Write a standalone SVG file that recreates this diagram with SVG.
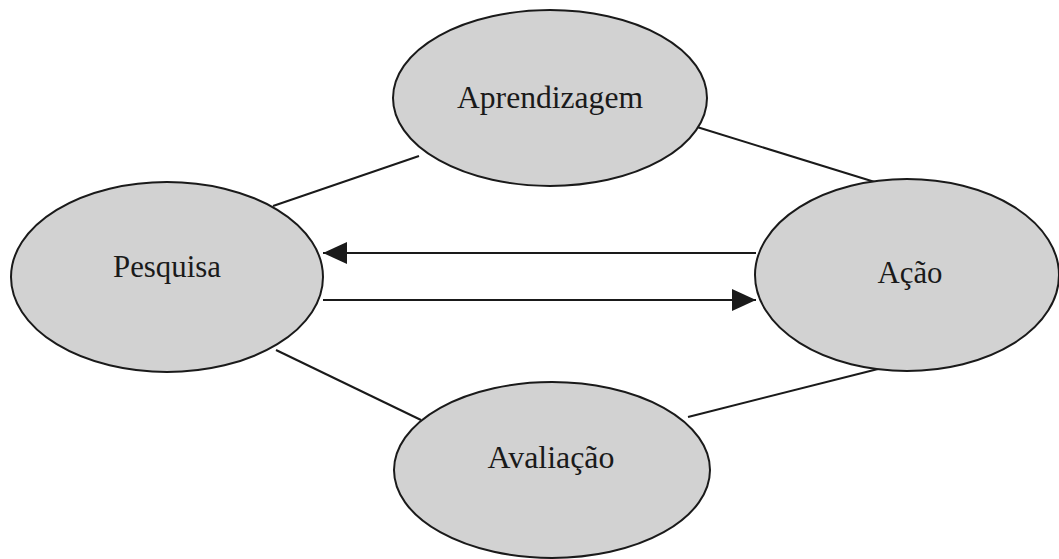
<svg xmlns="http://www.w3.org/2000/svg" width="1059" height="559" viewBox="0 0 1059 559">
  <style>
    .node ellipse { fill: #d2d2d2; stroke: #1a1a1a; stroke-width: 2; }
    .node text { font-family: "Liberation Serif", "Times New Roman", serif; font-size: 31px; fill: #1a1a1a; text-anchor: middle; }
    .edge { stroke: #1a1a1a; stroke-width: 2; fill: none; }
  </style>
  <defs>
    <marker id="head" viewBox="0 0 24 22" refX="24" refY="11" markerWidth="24" markerHeight="22" markerUnits="userSpaceOnUse" orient="auto">
      <path d="M0,0 L24,11 L0,22 Z" fill="#1a1a1a"/>
    </marker>
  </defs>
  <rect width="1059" height="559" fill="#ffffff"/>

  <g id="connectors">
    <line class="edge" x1="273" y1="206" x2="419" y2="156"/>
    <line class="edge" x1="697" y1="127" x2="878" y2="183"/>
    <line class="edge" x1="276" y1="350" x2="421" y2="420"/>
    <line class="edge" x1="688" y1="417" x2="878" y2="369"/>
    <line class="edge" x1="756" y1="253" x2="323" y2="253" marker-end="url(#head)"/>
    <line class="edge" x1="323" y1="300" x2="756" y2="300" marker-end="url(#head)"/>
  </g>

  <g id="aprendizagem" class="node">
    <ellipse cx="550" cy="98" rx="157" ry="88"/>
    <text x="550" y="108" textLength="186" lengthAdjust="spacingAndGlyphs">Aprendizagem</text>
  </g>
  <g id="pesquisa" class="node">
    <ellipse cx="167" cy="277" rx="156" ry="95"/>
    <text x="167" y="277" textLength="108" lengthAdjust="spacingAndGlyphs">Pesquisa</text>
  </g>
  <g id="acao" class="node">
    <ellipse cx="907" cy="275" rx="152" ry="96"/>
    <text x="910" y="283" textLength="65" lengthAdjust="spacingAndGlyphs">Ação</text>
  </g>
  <g id="avaliacao" class="node">
    <ellipse cx="552" cy="470" rx="158" ry="88"/>
    <text x="551" y="468" textLength="127" lengthAdjust="spacingAndGlyphs">Avaliação</text>
  </g>
</svg>
